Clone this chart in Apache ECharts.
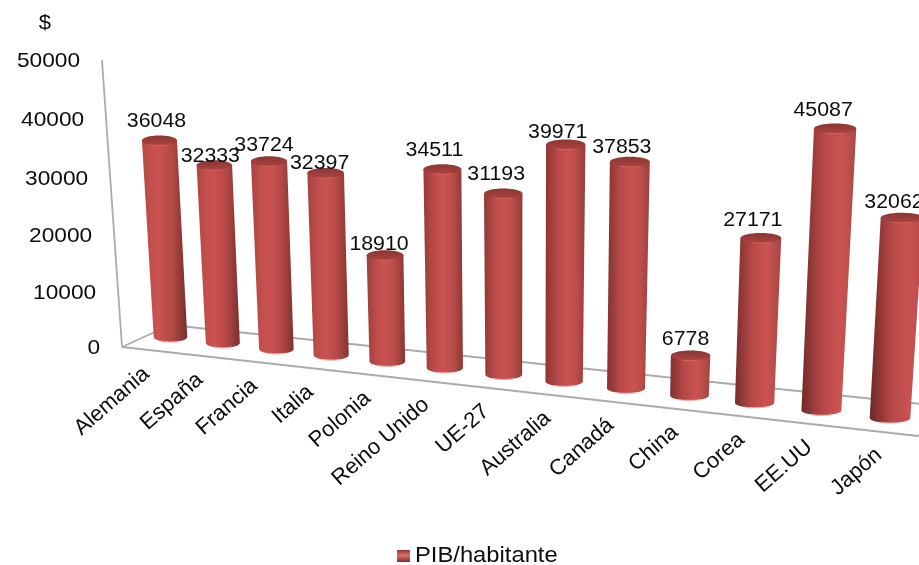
<!DOCTYPE html>
<html>
<head>
<meta charset="utf-8">
<style>html,body{margin:0;padding:0;background:#fff}#chart{width:919px;height:565px}</style>
<script src="https://cdn.jsdelivr.net/npm/echarts@6/dist/echarts.min.js"></script>
</head>
<body>
<div id="chart"></div>
<script>
// GDP per head by country
const categories = ['Alemania','España','Francia','Italia','Polonia','Reino Unido','UE-27','Australia','Canadá','China','Corea','EE.UU','Japón'];
const pibPorHabitante = [36048,32333,33724,32397,18910,34511,31193,39971,37853,6778,27171,45087,32062];
const valueTicks = [0,10000,20000,30000,40000,50000];
const seriesName = 'PIB/habitante';
const unitLabel = '$';
const axisMax = 50000;

// Value label tweaks, so neighbouring numbers sit like a spreadsheet's 3D chart
const labelLift = [19,9,16,10,11,19,19,12,14,16,18,18,15];
const labelShift = [-3,-4,-5,-6,-6,-8,-7,-8,-8,-5,-8,-12,-8];

const FONT = '"Liberation Sans", Arial, sans-serif';
const INK = '#0d0d0d';

// Homography from the unit square onto a quadrilateral
function makePlane(p00, p10, p01, p11) {
  const dx1 = p10[0]-p11[0], dx2 = p01[0]-p11[0], sx = p00[0]-p10[0]+p11[0]-p01[0];
  const dy1 = p10[1]-p11[1], dy2 = p01[1]-p11[1], sy = p00[1]-p10[1]+p11[1]-p01[1];
  const det = dx1*dy2-dx2*dy1;
  const g = (sx*dy2-dx2*sy)/det, h = (dx1*sy-sx*dy1)/det;
  const a = p10[0]-p00[0]+g*p10[0], b = p01[0]-p00[0]+h*p01[0], c = p00[0];
  const d = p10[1]-p00[1]+g*p10[1], e = p01[1]-p00[1]+h*p01[1], f = p00[1];
  return (s, t) => {
    const w = g*s+h*t+1;
    return {x:(a*s+b*t+c)/w, y:(d*s+e*t+f)/w, scale:1/w};
  };
}

// Plane through the column axes, first to last category
const columnPlane = makePlane([170.5,337],[890,418],[155,61],[909,100]);
// Front plane carrying the value axis edge
const wallPlane = makePlane([122,347],[918,436],[102,60],[930,106]);
const floorBack = [[170,325],[950,407]];

function unitCoords(api, i, v) {
  const p = api.coord([i, v]);
  const first = api.coord([0, 0]), last = api.coord([categories.length-1, axisMax]);
  return {s:(p[0]-first[0])/(last[0]-first[0]), t:(first[1]-p[1])/(first[1]-last[1])};
}

function arc(cx, cy, rx, ry, from, to, n) {
  const pts = [];
  for (let k=0; k<=n; k++) {
    const a = from+(to-from)*k/n;
    pts.push([cx+rx*Math.cos(a), cy+ry*Math.sin(a)]);
  }
  return pts;
}

function renderFrame(params, api) {
  const i = params.dataIndex;
  const tick = api.value(1);
  const {t} = unitCoords(api, 0, tick);
  const p = wallPlane(0, t);
  const children = [{
    type:'text', x:p.x-22, y:p.y+1.5, scaleX:1.08,
    style:{text:String(tick), fontFamily:FONT, fontSize:21, fill:INK, align:'right', verticalAlign:'middle'}
  }];
  if (i === 0) {
    const top = wallPlane(0,1), a = wallPlane(0,0), b = wallPlane(1,0);
    const lineStyle = {stroke:'#ababab', lineWidth:1.8, fill:null};
    const seg = (p1,p2) => ({type:'polyline', shape:{points:[p1,p2]}, style:lineStyle});
    children.unshift(
      seg([top.x,top.y],[a.x,a.y]),
      seg([a.x,a.y],[b.x,b.y]),
      seg([a.x,a.y],floorBack[0]),
      seg(floorBack[0],floorBack[1]),
      seg([b.x,b.y],floorBack[1])
    );
  }
  return {type:'group', children};
}

function renderColumn(params, api) {
  const i = api.value(0), v = api.value(1);
  const {s, t} = unitCoords(api, i, v);
  const top = columnPlane(s, t), base = columnPlane(s, 0);
  const rxTop = (34+1.5*s)*top.scale/2, rxBase = (33.5+1.5*s)*base.scale/2;
  const ry = 5;
  const lerp = echarts.color.lerp;
  const edgeL = lerp(s,['#b34a48','#6b2827']);
  const edgeR = lerp(s,['#762d2b','#a84a47']);
  const hl = 0.36+0.36*s;

  const outline = [[base.x-rxBase,base.y],[top.x-rxTop,top.y],[top.x+rxTop,top.y],[base.x+rxBase,base.y]]
    .concat(arc(base.x,base.y,rxBase,ry,0,Math.PI,18).slice(1));
  const labelPos = {x:top.x+labelShift[i], y:top.y-labelLift[i]};
  const catX = base.x-24+13*s, catY = base.y+34;

  return {type:'group', children:[
    {type:'polygon', shape:{points:outline}, style:{
      fill:new echarts.graphic.LinearGradient(0,0,1,0,[
        {offset:0,color:edgeL},
        {offset:hl*0.5,color:lerp(0.72,[edgeL,'#c9504f'])},
        {offset:hl,color:'#cb5351'},
        {offset:(1+hl)/2,color:lerp(0.3,['#cb5351',edgeR])},
        {offset:1,color:edgeR}
      ])
    }},
    {type:'polyline', shape:{points:arc(base.x,base.y,rxBase,ry,Math.PI*0.32,Math.PI*0.68,8)},
      style:{stroke:'#e9b0ad', lineWidth:1.2, fill:null}},
    {type:'ellipse', shape:{cx:top.x,cy:top.y,rx:rxTop,ry:ry}, style:{
      fill:new echarts.graphic.LinearGradient(0,0,0,1,[
        {offset:0,color:'#8a3634'},{offset:1,color:'#ab4341'}
      ])
    }},
    {type:'polyline', shape:{points:arc(top.x,top.y,rxTop,ry,Math.PI*0.35,Math.PI*0.65,8)},
      style:{stroke:'#d5655f', lineWidth:1, fill:null}},
    {type:'text', x:labelPos.x, y:labelPos.y, scaleX:1.04,
      style:{text:String(v), fontFamily:FONT, fontSize:20.5, fill:INK, align:'center', verticalAlign:'middle'}},
    {type:'text', x:catX, y:catY, rotation:0.72, scaleX:1,
      style:{text:categories[i], fontFamily:FONT, fontSize:22, fill:INK, align:'right', verticalAlign:'middle'}}
  ]};
}

const chart = echarts.init(document.getElementById('chart'), null, {renderer:'canvas'});
chart.setOption({
  backgroundColor:'#ffffff',
  animation:false,
  grid:{left:120, right:0, top:60, bottom:218},
  xAxis:{type:'category', data:categories, show:false},
  yAxis:{type:'value', min:0, max:axisMax, interval:10000, show:false},
  series:[
    {type:'custom', name:'ejes', silent:true, z:1, renderItem:renderFrame,
      encode:{x:0,y:1}, data:valueTicks.map((v)=>[0,v])},
    {type:'custom', name:seriesName, silent:true, z:2, renderItem:renderColumn,
      encode:{x:0,y:1}, data:pibPorHabitante.map((v,i)=>[i,v])}
  ],
  graphic:[
    {type:'text', x:45, y:23, scaleX:1.05, style:{text:unitLabel, fontFamily:FONT, fontSize:21, fill:INK, align:'center', verticalAlign:'middle'}},
    {type:'rect', shape:{x:397,y:550,width:13,height:12}, style:{
      fill:new echarts.graphic.LinearGradient(0,0,0,1,[
        {offset:0,color:'#8f3735'},{offset:0.45,color:'#d8706b'},{offset:1,color:'#7e2f2d'}
      ])}},
    {type:'text', x:415, y:556, scaleX:1.08, style:{text:seriesName, fontFamily:FONT, fontSize:22, fill:INK, align:'left', verticalAlign:'middle'}}
  ]
});
</script>
</body>
</html>
